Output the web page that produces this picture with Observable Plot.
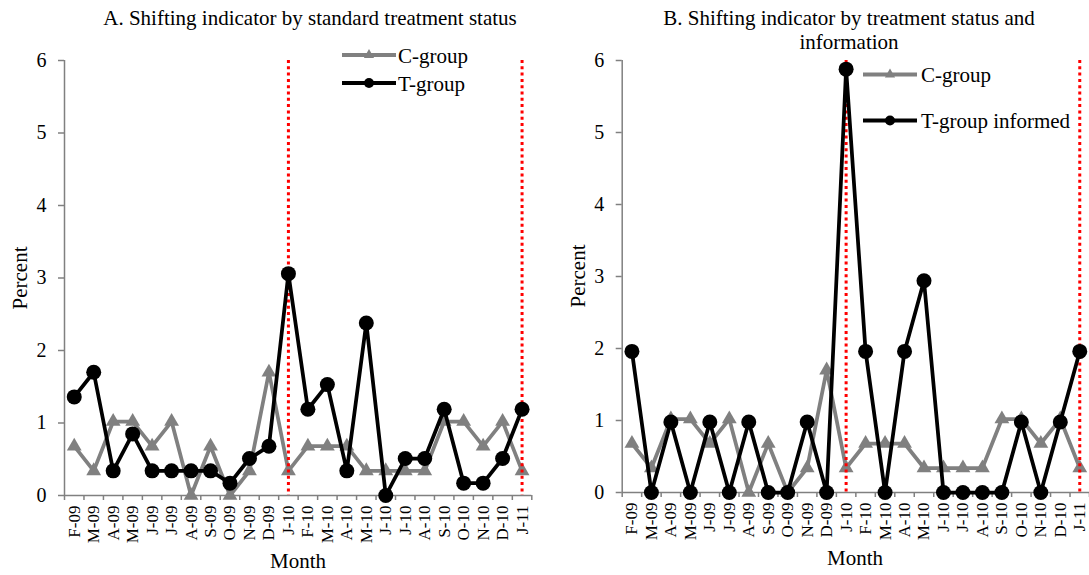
<!DOCTYPE html>
<html>
<head>
<meta charset="utf-8">
<script src="https://cdn.jsdelivr.net/npm/d3@7"></script>
<script src="https://cdn.jsdelivr.net/npm/@observablehq/plot@0.6"></script>
<style>
  body { margin: 0; background: #fff; }
  #wrap { position: relative; width: 1089px; height: 575px; overflow: hidden; background: #fff; }
  .panel { position: absolute; top: 0; }
</style>
</head>
<body>
<div id="wrap"></div>
<script>
// ---- data ----
const months = ["F-09","M-09","A-09","M-09","J-09","J-09","A-09","S-09","O-09","N-09","D-09","J-10",
                "F-10","M-10","A-10","M-10","J-10","J-10","A-10","S-10","O-10","N-10","D-10","J-11"];
const cGroup = [0.68,0.34,1.02,1.02,0.68,1.02,0,0.68,0,0.34,1.70,0.34,
                0.68,0.68,0.68,0.34,0.34,0.34,0.34,1.02,1.02,0.68,1.02,0.34];
const tGroup = [1.36,1.70,0.34,0.85,0.34,0.34,0.34,0.34,0.17,0.51,0.68,3.06,
                1.19,1.53,0.34,2.38,0,0.51,0.51,1.19,0.17,0.17,0.51,1.19];
const tInformed = [1.96,0,0.98,0,0.98,0,0.98,0,0,0.98,0,5.88,
                   1.96,0,1.96,2.94,0,0,0,0,0.98,0,0.98,1.96];
const yTicks = [0,1,2,3,4,5,6];
const markerMonths = [11, 23]; // indices of J-10 and J-11
const titleA = ["A. Shifting indicator by standard treatment status"];
const titleB = ["B. Shifting indicator by treatment status and", "information"];
const namesA = ["C-group", "T-group"];
const namesB = ["C-group", "T-group informed"];

const FONT = '"Liberation Serif", "Times New Roman", Times, serif';
const GRAY = "#808080";

function panel(cfg) {
  const rows = months.map((m, i) => ({i, m, c: cGroup[i], t: cfg.t[i]}));
  const bounds = d3.range(months.length + 1).map(k => k - 0.5);
  const svg = Plot.plot({
    width: cfg.width, height: 575,
    marginLeft: cfg.ml, marginRight: cfg.mr, marginTop: 60, marginBottom: cfg.mb,
    style: {fontFamily: FONT, background: "transparent", overflow: "visible", color: "black"},
    x: {type: "linear", domain: [-0.5, months.length - 0.5], axis: null},
    y: {domain: [0, 6], axis: null},
    marks: [
      Plot.ruleX([-0.5], {stroke: GRAY, strokeWidth: 1.5}),
      Plot.ruleY([0], {stroke: GRAY, strokeWidth: 1.5}),
      Plot.axisY({ticks: yTicks, tickSize: 6, tickPadding: 12, stroke: GRAY, fill: "black",
                  strokeWidth: 1.5, fontSize: 20, label: null, tickFormat: d => String(d)}),
      Plot.axisX({ticks: bounds, tickSize: 5, tickFormat: () => "", stroke: GRAY, strokeWidth: 1.5, label: null}),
      Plot.text(rows, {x: "i", y: () => 0, text: "m", rotate: -90, textAnchor: "end", lineAnchor: "middle",
                       dy: 10, fontSize: 17, fill: "black"}),
      Plot.line(rows, {x: "i", y: "c", stroke: GRAY, strokeWidth: 3.75}),
      Plot.dot(rows, {x: "i", y: "c", symbol: "triangle", r: 5.5, fill: GRAY}),
      Plot.ruleX(markerMonths, {stroke: "red", strokeWidth: 3, strokeDasharray: "3,3.3"}),
      Plot.line(rows, {x: "i", y: "t", stroke: "black", strokeWidth: 3.75}),
      Plot.dot(rows, {x: "i", y: "t", r: 7.5, fill: "black"})
    ]
  });
  svg.classList.add("panel");
  svg.style.left = cfg.left + "px";
  const s = d3.select(svg);
  // title
  cfg.title.forEach((line, k) => {
    s.append("text").attr("x", cfg.titleX).attr("y", 25 + k * 24)
      .attr("text-anchor", "middle").attr("font-family", FONT).attr("font-size", 21)
      .attr("fill", "black").text(line);
  });
  // axis labels
  s.append("text").attr("transform", `translate(${cfg.pX},${cfg.pY}) rotate(-90)`)
    .attr("text-anchor", "middle").attr("font-family", FONT).attr("font-size", 21)
    .attr("fill", "black").text("Percent");
  s.append("text").attr("x", cfg.mX).attr("y", cfg.mY)
    .attr("text-anchor", "middle").attr("font-family", FONT).attr("font-size", 21)
    .attr("fill", "black").text("Month");
  // legend
  const L = cfg.legend;
  const sym = d3.symbol().type(d3.symbolTriangle).size(45);
  [[GRAY, "tri"], ["black", "dot"]].forEach(([col, kind], k) => {
    const y = L.y[k];
    s.append("line").attr("x1", L.x1).attr("x2", L.x2).attr("y1", y).attr("y2", y)
      .attr("stroke", col).attr("stroke-width", 4);
    const cx = (L.x1 + L.x2) / 2;
    if (kind === "tri") s.append("path").attr("d", sym()).attr("transform", `translate(${cx},${y})`).attr("fill", col);
    else s.append("circle").attr("cx", cx).attr("cy", y).attr("r", 5).attr("fill", col);
    s.append("text").attr("x", L.tx).attr("y", y + 7.5).attr("text-anchor", "start")
      .attr("font-family", FONT).attr("font-size", 21)
      .attr("fill", "black").text(cfg.names[k]);
  });
  document.getElementById("wrap").appendChild(svg);
}

panel({left: 0, width: 545, ml: 64, mr: 13.7, mb: 80, t: tGroup, title: titleA, titleX: 310,
       pX: 27, pY: 278, mX: 298, mY: 568, names: namesA,
       legend: {x1: 342, x2: 396, y: [55, 83], tx: 398}});
panel({left: 545, width: 544, ml: 76.7, mr: 0, mb: 83, t: tInformed, title: titleB, titleX: 304,
       pX: 39.5, pY: 276, mX: 310, mY: 565, names: namesB,
       legend: {x1: 318, x2: 372, y: [74.5, 120.5], tx: 376}});
</script>
</body>
</html>
